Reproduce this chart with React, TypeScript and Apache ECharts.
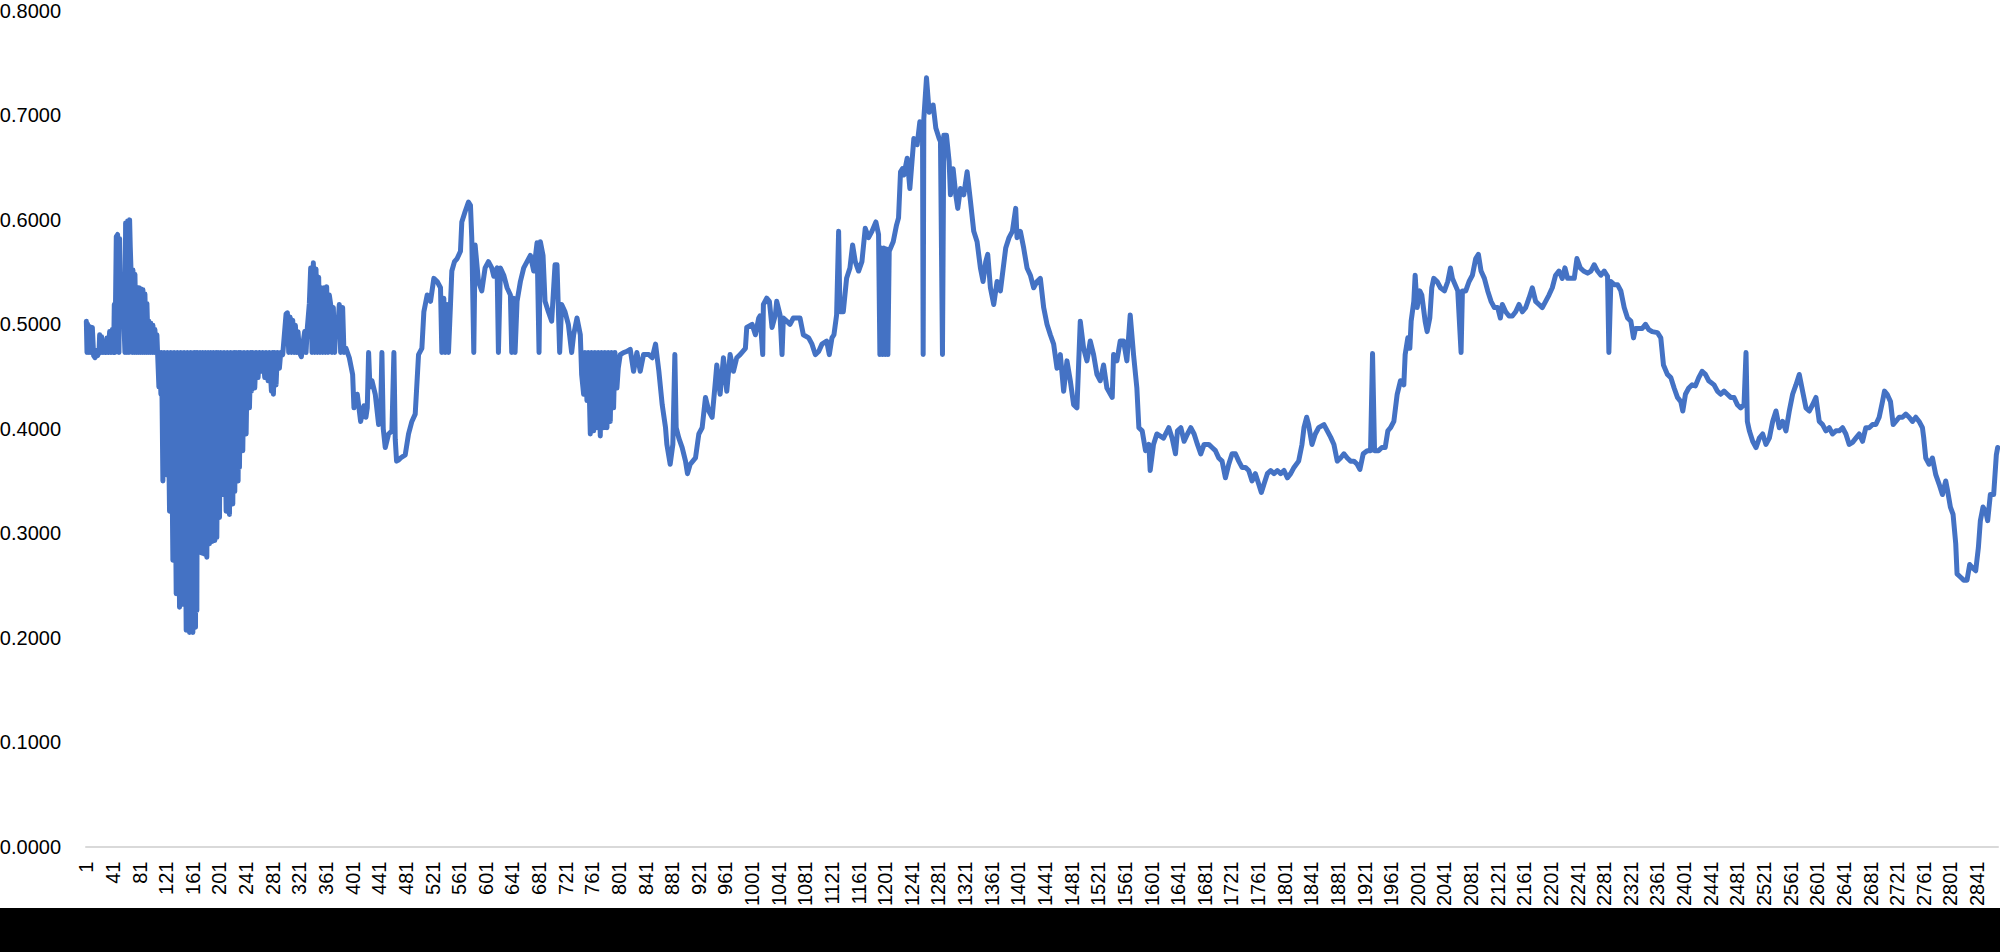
import React, { useEffect, useRef } from "react";
import * as echarts from "echarts";

// Category count and axis tick values
const N_CATEGORIES = 2872;
const categories: string[] = Array.from({ length: N_CATEGORIES }, (_, i) => String(i + 1));
const yTicks = { min: 0, max: 0.8, interval: 0.1 };

// Series values: [category number, value]
const seg1: number[][] = [
  [1, 0.503], [2, 0.473], [3, 0.5], [5, 0.473], [6, 0.498], [8, 0.473], [10, 0.497], [12, 0.47], [14, 0.468],
  [16, 0.475], [18, 0.47], [20, 0.473], [21, 0.49], [23, 0.473], [24, 0.488], [26, 0.473], [28, 0.478], [30, 0.473],
  [32, 0.487], [34, 0.473], [36, 0.493], [38, 0.473], [40, 0.495], [42, 0.473], [43, 0.519], [44, 0.473], [46, 0.584],
  [48, 0.586], [50, 0.473], [51, 0.582], [53, 0.522], [55, 0.509], [57, 0.509], [59, 0.473], [60, 0.597], [62, 0.473],
  [63, 0.599], [65, 0.473], [66, 0.6], [67, 0.574], [68, 0.554], [70, 0.473], [71, 0.552], [73, 0.473], [74, 0.548],
  [76, 0.473], [77, 0.535], [79, 0.473], [80, 0.535], [82, 0.473], [83, 0.534], [85, 0.473], [86, 0.533], [88, 0.473],
  [89, 0.529], [91, 0.473], [92, 0.52], [94, 0.473], [95, 0.503], [97, 0.473], [98, 0.501], [100, 0.473], [101, 0.499],
  [103, 0.473], [104, 0.495], [106, 0.473], [107, 0.49], [108, 0.473],
];
const seg2: number[][] = [
  [110, 0.44], [111, 0.473], [113, 0.433], [114, 0.473], [116, 0.35], [118, 0.473], [121, 0.356], [123, 0.473],
  [126, 0.321], [128, 0.473], [131, 0.274], [133, 0.473], [136, 0.242], [138, 0.473], [141, 0.229], [143, 0.473],
  [146, 0.232], [148, 0.473], [151, 0.207], [153, 0.473], [156, 0.205], [158, 0.473], [161, 0.205], [163, 0.473],
  [165, 0.21], [166, 0.473], [167, 0.226], [168, 0.473], [170, 0.283], [172, 0.473], [174, 0.281], [176, 0.473],
  [178, 0.28], [180, 0.473], [182, 0.277], [184, 0.473], [186, 0.29], [188, 0.473], [190, 0.292], [192, 0.473],
  [194, 0.293], [196, 0.473], [197, 0.296], [199, 0.473], [201, 0.315], [203, 0.473], [206, 0.337], [208, 0.473],
  [211, 0.321], [213, 0.473], [216, 0.318], [218, 0.473], [221, 0.328], [223, 0.473], [224, 0.34], [226, 0.473],
  [229, 0.35], [230, 0.473], [231, 0.363], [233, 0.473], [236, 0.379], [238, 0.473], [241, 0.395], [243, 0.473],
  [246, 0.42], [248, 0.473], [249, 0.436], [251, 0.473], [254, 0.439], [256, 0.473], [259, 0.449], [261, 0.473],
  [264, 0.455], [266, 0.473], [269, 0.449], [271, 0.473], [274, 0.446], [276, 0.473], [279, 0.436], [281, 0.473],
  [282, 0.433], [284, 0.473], [286, 0.442], [288, 0.473], [291, 0.458], [293, 0.473], [296, 0.471],
];
const seg3: number[][] = [
  [301, 0.51], [303, 0.511], [305, 0.473], [307, 0.507], [309, 0.473], [311, 0.504], [313, 0.473], [315, 0.499],
  [317, 0.473], [319, 0.493], [321, 0.473], [324, 0.469], [326, 0.48], [329, 0.493], [331, 0.473], [333, 0.497],
  [336, 0.52], [338, 0.554], [340, 0.473], [342, 0.559], [344, 0.473], [346, 0.553], [348, 0.473], [350, 0.545],
  [352, 0.473], [354, 0.535], [356, 0.473], [358, 0.535], [360, 0.473], [362, 0.536], [364, 0.473], [366, 0.528],
  [368, 0.519], [370, 0.473], [372, 0.516], [374, 0.473], [376, 0.503], [378, 0.49], [381, 0.519], [383, 0.473],
  [386, 0.516], [388, 0.473], [391, 0.477], [396, 0.468], [401, 0.452], [403, 0.42], [408, 0.433], [413, 0.407],
  [418, 0.422], [421, 0.411],
];
const seg4: number[][] = [
  [423, 0.42], [425, 0.473], [427, 0.44], [430, 0.446], [435, 0.433], [440, 0.404], [443, 0.415], [445, 0.473],
  [447, 0.4], [450, 0.382], [455, 0.395], [460, 0.398], [463, 0.473], [465, 0.39], [467, 0.369], [470, 0.37],
  [473, 0.372], [480, 0.375], [485, 0.395], [490, 0.407], [495, 0.414], [500, 0.471], [505, 0.477], [508, 0.512],
  [513, 0.528], [518, 0.522], [523, 0.544], [528, 0.541], [533, 0.535], [535, 0.473], [538, 0.525], [540, 0.473],
  [543, 0.519], [545, 0.473], [548, 0.519], [550, 0.551], [554, 0.56], [558, 0.563], [563, 0.57], [565, 0.598],
  [570, 0.608], [575, 0.617], [578, 0.614], [580, 0.582], [583, 0.473], [585, 0.576], [590, 0.541], [595, 0.532],
  [600, 0.554], [605, 0.56], [610, 0.554], [613, 0.546], [618, 0.554], [620, 0.473], [623, 0.554], [628, 0.547],
  [633, 0.535], [638, 0.528], [640, 0.473], [643, 0.525], [645, 0.473], [648, 0.522], [653, 0.541], [658, 0.554],
  [663, 0.56], [668, 0.566], [673, 0.551], [678, 0.578], [681, 0.473], [683, 0.579], [687, 0.566], [690, 0.522],
  [695, 0.512], [700, 0.503], [705, 0.557], [708, 0.557], [712, 0.473], [715, 0.519], [720, 0.512], [725, 0.5],
  [730, 0.473], [733, 0.49], [738, 0.506], [743, 0.49], [745, 0.452], [748, 0.433], [750, 0.473], [753, 0.427],
  [755, 0.473], [758, 0.395], [760, 0.473], [763, 0.398], [765, 0.473], [768, 0.401], [770, 0.473], [773, 0.393],
  [775, 0.473], [778, 0.401], [780, 0.473], [783, 0.401], [785, 0.473], [788, 0.407], [790, 0.473], [793, 0.42],
  [795, 0.473], [798, 0.439], [800, 0.458], [803, 0.471], [808, 0.473], [813, 0.474], [818, 0.476], [823, 0.455],
  [828, 0.473], [833, 0.455],
];
const seg5: number[][] = [
  [838, 0.471], [846, 0.471], [851, 0.468], [856, 0.481], [861, 0.455], [866, 0.423], [871, 0.401], [873, 0.385],
  [878, 0.366], [882, 0.385], [885, 0.471], [887, 0.401], [891, 0.391], [896, 0.382], [901, 0.369], [904, 0.357],
  [908, 0.366], [916, 0.372], [921, 0.395], [926, 0.401], [931, 0.43], [936, 0.417], [941, 0.411], [946, 0.446],
  [948, 0.461], [953, 0.433], [958, 0.468], [963, 0.436], [968, 0.471], [973, 0.455], [978, 0.468], [983, 0.471],
  [991, 0.477], [993, 0.497], [1001, 0.5], [1006, 0.49], [1011, 0.506], [1013, 0.508], [1017, 0.471], [1018, 0.519],
  [1023, 0.525], [1027, 0.522], [1031, 0.497], [1036, 0.509], [1038, 0.522], [1043, 0.509], [1046, 0.471],
  [1048, 0.506], [1053, 0.503], [1058, 0.5], [1063, 0.506], [1073, 0.506], [1078, 0.49], [1086, 0.487],
  [1091, 0.481], [1096, 0.471], [1101, 0.474], [1106, 0.481], [1113, 0.484], [1117, 0.471], [1121, 0.487],
  [1124, 0.49], [1128, 0.509], [1131, 0.589], [1133, 0.512], [1138, 0.512], [1143, 0.544], [1148, 0.554],
  [1152, 0.576], [1156, 0.56], [1161, 0.551], [1166, 0.56], [1171, 0.592], [1176, 0.583], [1181, 0.589],
  [1187, 0.598], [1191, 0.586], [1193, 0.471], [1195, 0.573], [1197, 0.471], [1199, 0.573], [1201, 0.471],
  [1203, 0.572], [1205, 0.471], [1207, 0.57], [1208, 0.57], [1213, 0.579], [1218, 0.595], [1221, 0.602],
  [1224, 0.646],
];
const seg6: number[][] = [
  [1227, 0.649], [1229, 0.643], [1234, 0.659], [1238, 0.63], [1244, 0.678], [1249, 0.672], [1253, 0.694],
  [1257, 0.692], [1258, 0.471], [1259, 0.697], [1263, 0.736], [1267, 0.703], [1273, 0.71], [1277, 0.688],
  [1282, 0.678], [1284, 0.675], [1287, 0.471], [1289, 0.681], [1293, 0.681], [1297, 0.656], [1299, 0.624],
  [1303, 0.649], [1307, 0.624], [1310, 0.611], [1314, 0.63], [1319, 0.624], [1324, 0.646], [1329, 0.618],
  [1334, 0.589], [1339, 0.579], [1344, 0.554], [1348, 0.541], [1352, 0.56], [1355, 0.567], [1359, 0.535],
  [1364, 0.519], [1369, 0.541], [1374, 0.532], [1382, 0.573], [1387, 0.583], [1392, 0.589], [1397, 0.611],
  [1399, 0.583], [1404, 0.589], [1409, 0.573], [1414, 0.554], [1419, 0.547], [1424, 0.535], [1429, 0.541],
  [1434, 0.544], [1439, 0.516], [1444, 0.5], [1449, 0.49], [1454, 0.481], [1459, 0.458], [1464, 0.471],
  [1469, 0.436], [1474, 0.465], [1479, 0.446], [1484, 0.423], [1489, 0.42], [1494, 0.503], [1499, 0.477],
  [1504, 0.465], [1509, 0.484], [1514, 0.471], [1519, 0.452], [1524, 0.446], [1529, 0.461], [1534, 0.439],
  [1542, 0.43], [1544, 0.471], [1549, 0.465], [1554, 0.484], [1559, 0.484], [1564, 0.465], [1569, 0.509],
  [1574, 0.471], [1579, 0.439], [1582, 0.401], [1587, 0.398], [1592, 0.379], [1597, 0.385], [1599, 0.36],
  [1604, 0.385], [1609, 0.395], [1619, 0.391], [1627, 0.401], [1632, 0.391], [1637, 0.376],
];
const seg7: number[][] = [
  [1640, 0.398], [1645, 0.401], [1650, 0.388], [1655, 0.395], [1660, 0.401], [1665, 0.395], [1670, 0.385],
  [1675, 0.376], [1680, 0.385], [1687, 0.385], [1692, 0.382], [1697, 0.379], [1702, 0.372], [1707, 0.369],
  [1712, 0.353], [1717, 0.366], [1722, 0.376], [1727, 0.376], [1732, 0.369], [1737, 0.363], [1742, 0.363],
  [1747, 0.36], [1752, 0.35], [1757, 0.357], [1762, 0.347], [1766, 0.339], [1770, 0.347], [1775, 0.357],
  [1780, 0.36], [1785, 0.357], [1790, 0.36], [1795, 0.357], [1800, 0.36], [1805, 0.353], [1810, 0.357],
  [1815, 0.363], [1822, 0.369], [1827, 0.385], [1830, 0.401], [1834, 0.411], [1837, 0.404], [1842, 0.385],
  [1847, 0.395], [1852, 0.401], [1860, 0.404], [1865, 0.398], [1870, 0.392], [1875, 0.385], [1880, 0.369],
  [1885, 0.372], [1890, 0.376], [1895, 0.372], [1900, 0.369], [1905, 0.369], [1910, 0.366], [1914, 0.361],
  [1919, 0.376], [1925, 0.379], [1930, 0.379], [1933, 0.472], [1936, 0.379], [1942, 0.379], [1947, 0.382],
  [1952, 0.382], [1956, 0.398], [1960, 0.401], [1965, 0.407], [1970, 0.433], [1975, 0.446], [1980, 0.442],
  [1982, 0.471], [1986, 0.487], [1989, 0.477], [1991, 0.503], [1995, 0.522], [1997, 0.547], [2000, 0.516],
  [2004, 0.532], [2007, 0.528], [2012, 0.503], [2015, 0.493], [2019, 0.506], [2022, 0.535], [2025, 0.544],
  [2030, 0.541], [2035, 0.535],
];
const seg8: number[][] = [
  [2041, 0.532], [2046, 0.541], [2050, 0.554], [2053, 0.544], [2057, 0.538], [2061, 0.532], [2066, 0.473],
  [2068, 0.532], [2073, 0.532], [2078, 0.541], [2083, 0.547], [2088, 0.563], [2092, 0.567], [2096, 0.551],
  [2101, 0.544], [2106, 0.532], [2111, 0.522], [2116, 0.516], [2121, 0.516], [2125, 0.506], [2128, 0.519],
  [2133, 0.512], [2138, 0.508], [2143, 0.508], [2148, 0.512], [2153, 0.519], [2158, 0.512], [2163, 0.516],
  [2168, 0.525], [2173, 0.535], [2178, 0.522], [2183, 0.519], [2188, 0.516], [2193, 0.522], [2198, 0.528],
  [2203, 0.535], [2208, 0.547], [2213, 0.551], [2218, 0.544], [2222, 0.554], [2226, 0.544], [2231, 0.544],
  [2236, 0.544], [2240, 0.563], [2245, 0.554], [2250, 0.551], [2256, 0.549], [2261, 0.551], [2266, 0.557],
  [2271, 0.551], [2276, 0.547], [2281, 0.551], [2286, 0.546], [2288, 0.473], [2291, 0.541], [2296, 0.538],
  [2301, 0.538], [2306, 0.532], [2311, 0.516], [2316, 0.506], [2321, 0.503], [2325, 0.487], [2328, 0.496],
  [2333, 0.496], [2338, 0.496], [2343, 0.5], [2348, 0.495], [2353, 0.493], [2361, 0.492], [2366, 0.487],
  [2370, 0.461], [2376, 0.452], [2381, 0.449], [2386, 0.439], [2391, 0.43], [2396, 0.426], [2399, 0.417],
  [2403, 0.433], [2408, 0.439], [2413, 0.442], [2418, 0.441], [2423, 0.449], [2428, 0.455], [2433, 0.452],
  [2438, 0.446],
];
const seg9: number[][] = [
  [2446, 0.442], [2451, 0.436], [2456, 0.433], [2461, 0.436], [2466, 0.433], [2471, 0.43], [2476, 0.43],
  [2481, 0.423], [2486, 0.42], [2491, 0.423], [2494, 0.473], [2496, 0.407], [2499, 0.398], [2504, 0.388],
  [2509, 0.382], [2514, 0.391], [2519, 0.395], [2524, 0.385], [2529, 0.391], [2534, 0.407], [2539, 0.417],
  [2544, 0.401], [2549, 0.407], [2554, 0.398], [2559, 0.417], [2564, 0.433], [2569, 0.442], [2574, 0.452],
  [2579, 0.436], [2584, 0.42], [2589, 0.417], [2594, 0.423], [2599, 0.43], [2604, 0.407], [2609, 0.404],
  [2614, 0.398], [2619, 0.401], [2624, 0.395], [2629, 0.398], [2634, 0.398], [2639, 0.401], [2644, 0.395],
  [2649, 0.385], [2654, 0.387], [2659, 0.391], [2664, 0.395], [2669, 0.388], [2674, 0.401], [2679, 0.401],
  [2684, 0.404], [2689, 0.404], [2694, 0.411], [2699, 0.426], [2702, 0.436], [2706, 0.433], [2711, 0.426],
  [2715, 0.404], [2719, 0.407], [2724, 0.411], [2729, 0.411], [2734, 0.414], [2739, 0.411], [2744, 0.407],
  [2749, 0.411], [2754, 0.407], [2759, 0.401], [2761, 0.391], [2764, 0.372], [2769, 0.366], [2774, 0.372],
  [2779, 0.356], [2784, 0.347], [2789, 0.337], [2794, 0.35], [2797, 0.34], [2801, 0.325], [2805, 0.318],
  [2809, 0.29], [2811, 0.261], [2816, 0.258], [2821, 0.255], [2826, 0.255], [2830, 0.27], [2834, 0.267],
  [2839, 0.264], [2843, 0.286], [2846, 0.312], [2850, 0.325], [2854, 0.321], [2857, 0.312], [2861, 0.337],
  [2866, 0.337], [2870, 0.375], [2872, 0.382],
];

const segments = [seg1, seg2, seg3, seg4, seg5, seg6, seg7, seg8, seg9];

export default function App() {
  const ref = useRef<HTMLDivElement>(null);
  useEffect(() => {
    if (!ref.current) return;
    const chart = echarts.init(ref.current, null, { renderer: "svg" });
    const data = segments.flat().map(([c, v]) => [c - 1, v]);
    const font = "Liberation Sans";
    chart.setOption({
      animation: false,
      backgroundColor: "#ffffff",
      grid: {
        left: 86,
        right: 2,
        top: 11,
        bottom: 105.5,
        containLabel: false,
        outerBoundsMode: "none",
      },
      xAxis: {
        type: "category",
        data: categories,
        boundaryGap: true,
        axisLine: { show: true, lineStyle: { color: "#d9d9d9", width: 2 } },
        axisTick: { show: false },
        splitLine: { show: false },
        axisLabel: {
          interval: 39,
          rotate: 90,
          margin: 15,
          color: "#000000",
          fontFamily: font,
          fontSize: 20,
          lineHeight: 16,
          hideOverlap: false,
        },
      },
      yAxis: {
        type: "value",
        min: yTicks.min,
        max: yTicks.max,
        interval: yTicks.interval,
        axisLine: { show: false },
        axisTick: { show: false },
        splitLine: { show: false },
        axisLabel: {
          margin: 25,
          color: "#000000",
          fontFamily: font,
          fontSize: 20,
          lineHeight: 16,
          formatter: (v: number) => v.toFixed(4),
        },
      },
      graphic: [
        {
          type: "rect",
          left: 0,
          top: 908,
          z: 100,
          shape: { width: 2000, height: 44 },
          style: { fill: "#000000" },
        },
      ],
      series: [
        {
          type: "line",
          data,
          symbol: "none",
          showSymbol: false,
          lineStyle: { color: "#4472C4", width: 5, cap: "round", join: "round" },
          itemStyle: { color: "#4472C4" },
        },
      ],
    });
    return () => chart.dispose();
  }, []);
  return (
    <div
      ref={ref}
      style={{ position: "absolute", left: 0, top: 0, width: 2000, height: 952, background: "#fff" }}
    />
  );
}
